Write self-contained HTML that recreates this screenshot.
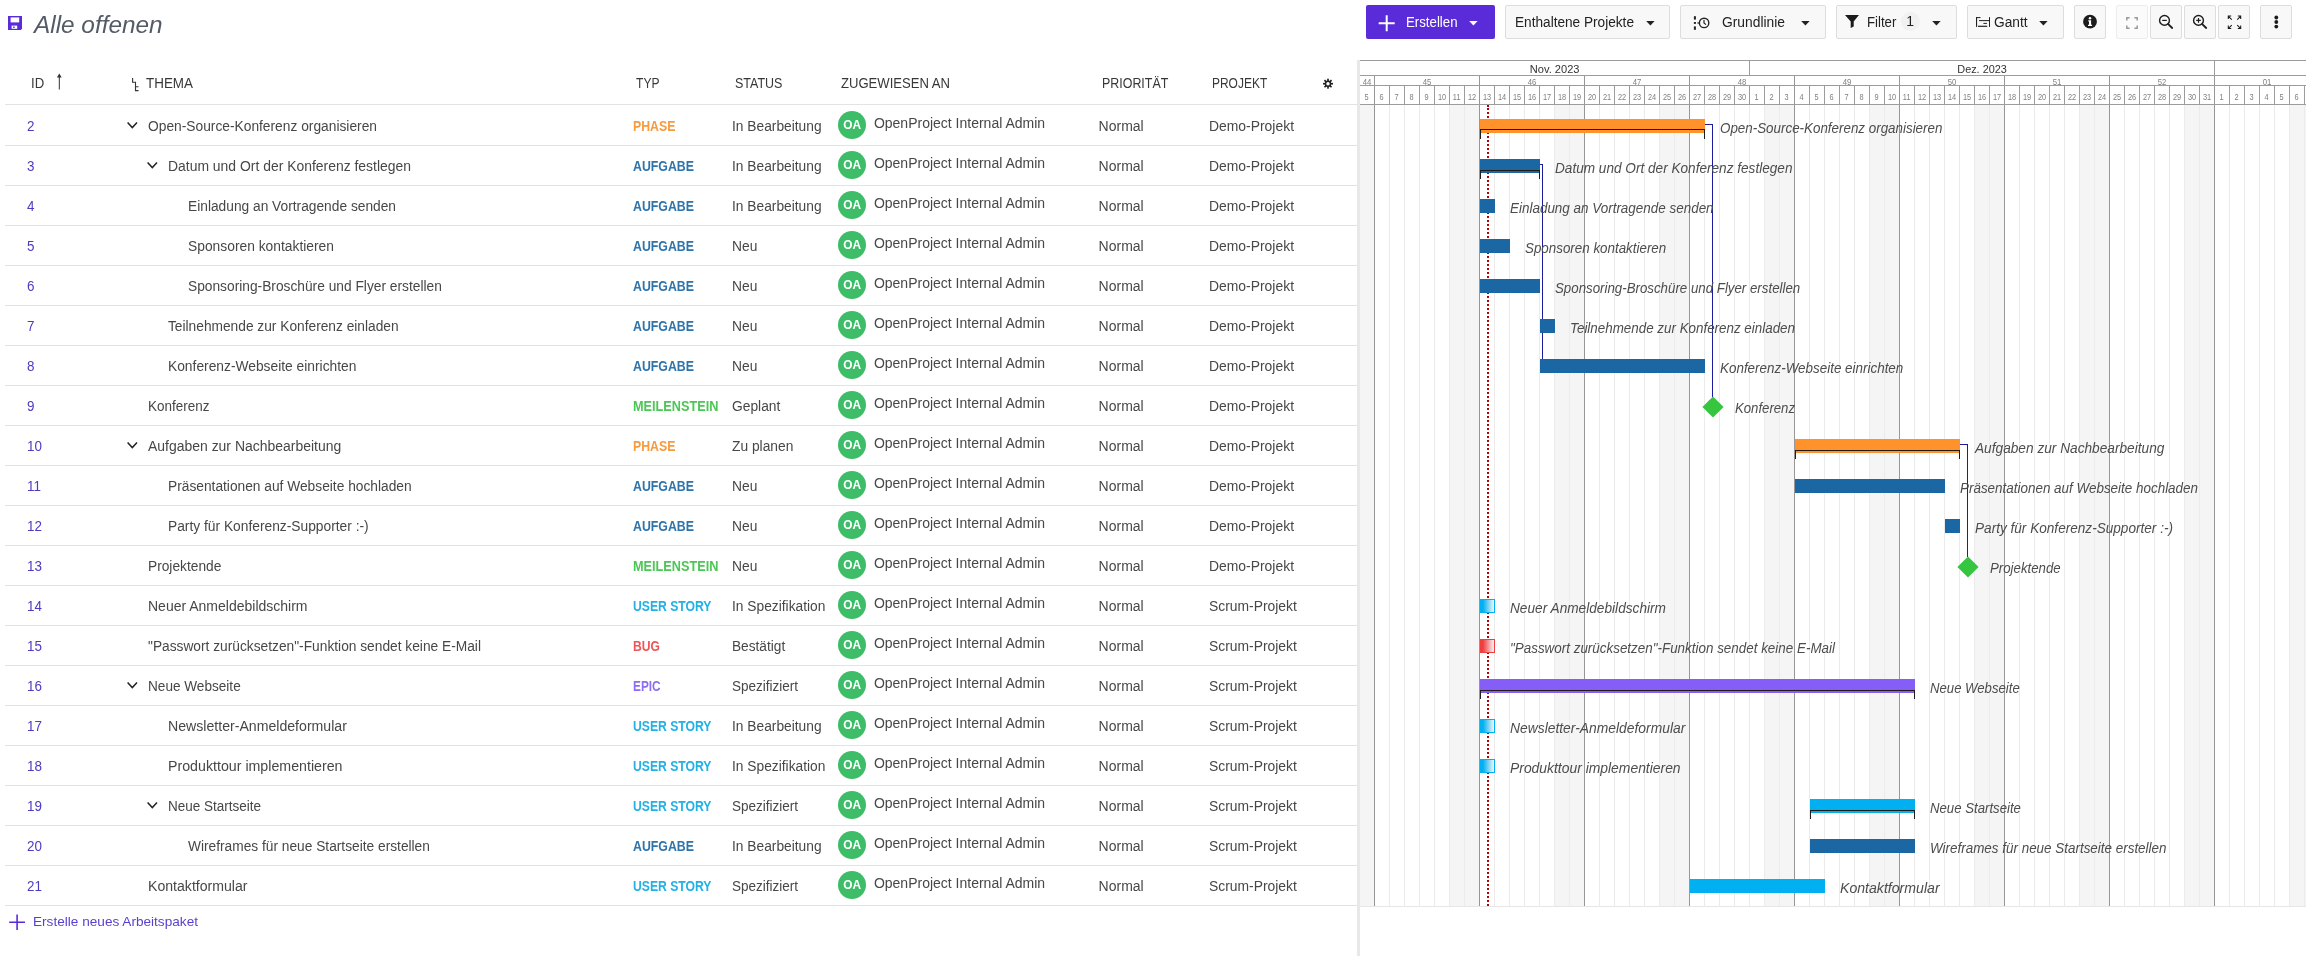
<!DOCTYPE html><html lang="de"><head><meta charset="utf-8"><title>Alle offenen</title><style>
html,body{margin:0;padding:0;background:#fff}html{width:2306px;height:956px;overflow:hidden}body{width:2306px;height:956px;position:relative;overflow:hidden;font-family:"Liberation Sans", sans-serif;}
#w{position:absolute;left:0;top:0;width:2306px;height:956px;overflow:hidden;will-change:transform}#w>div,#w>svg,#w>span{position:absolute;display:block}
.t{white-space:nowrap;line-height:20px;height:20px;transform-origin:0 50%}.c{transform-origin:50% 50%}
</style></head><body><div id="w">
<svg style="left:8px;top:16px" width="14" height="14" viewBox="0 0 14 14"><path fill="#5a2bd9" d="M0 0h14v12.6L12.8 14H0z"/><rect x="2.6" y="1.4" width="8.6" height="5" fill="#fff"/><rect x="3.6" y="9.6" width="5.6" height="3.2" fill="#fff"/><rect x="5.2" y="10.4" width="1.4" height="1.6" fill="#5a2bd9"/></svg>
<div style="left:1366px;top:5px;width:129px;height:34px;background:#5a2bd9;border-radius:2px"></div>
<svg style="left:1378px;top:15px" width="17" height="17" viewBox="0 0 17 17"><path d="M8.7 0.3v16M0.7 8.3h16" stroke="#fff" stroke-width="2" fill="none"/></svg>
<svg style="left:1469.4px;top:21px" width="9" height="5" viewBox="0 0 9 5"><path d="M0.2 0h8.4L4.4 4.6z" fill="#fff"/></svg>
<div style="left:1505px;top:5px;width:165px;height:34px;box-sizing:border-box;background:#f8f8f8;border:1px solid #dddddd;border-radius:2px"></div>
<svg style="left:1645.5px;top:21px" width="9" height="5" viewBox="0 0 9 5"><path d="M0.2 0h8.4L4.4 4.6z" fill="#222"/></svg>
<div style="left:1680px;top:5px;width:146px;height:34px;box-sizing:border-box;background:#f8f8f8;border:1px solid #dddddd;border-radius:2px"></div>
<svg style="left:1692px;top:15px" width="20" height="16" viewBox="0 0 20 16"><g fill="#222"><rect x="1.9" y="1.2" width="2" height="3.4"/><rect x="1.9" y="7" width="2" height="1.9"/><rect x="1.9" y="11.4" width="2" height="3.4"/><rect x="5.4" y="7.4" width="2" height="1.2"/></g><circle cx="12.1" cy="7.9" r="4.7" fill="none" stroke="#222" stroke-width="1.4"/><path d="M12 4.9v3.1l2 1.6" fill="none" stroke="#222" stroke-width="1.2"/></svg>
<svg style="left:1800.8px;top:21px" width="9" height="5" viewBox="0 0 9 5"><path d="M0.2 0h8.4L4.4 4.6z" fill="#222"/></svg>
<div style="left:1836px;top:5px;width:121px;height:34px;box-sizing:border-box;background:#f8f8f8;border:1px solid #dddddd;border-radius:2px"></div>
<svg style="left:1844px;top:14px" width="16" height="15" viewBox="0 0 16 15"><path d="M1 1h14L9.7 7.6v5L6.7 14V7.6z" fill="#1c1c1c"/></svg>
<div style="left:1900.5px;top:12px;width:19px;height:19px;border-radius:50%;background:#f1f1f1"></div>
<svg style="left:1931.8px;top:21px" width="9" height="5" viewBox="0 0 9 5"><path d="M0.2 0h8.4L4.4 4.6z" fill="#222"/></svg>
<div style="left:1967px;top:5px;width:97px;height:34px;box-sizing:border-box;background:#f8f8f8;border:1px solid #dddddd;border-radius:2px"></div>
<svg style="left:1975px;top:16px" width="16" height="12" viewBox="0 0 16 12"><g fill="#222"><rect x="1" y="1.1" width="1.1" height="9.8"/><rect x="1" y="1.1" width="4.5" height="1"/><rect x="4" y="4.1" width="10.5" height="1"/><rect x="8.4" y="6.9" width="3.5" height="1"/><rect x="3" y="9.7" width="9.2" height="1.2"/><rect x="14" y="1.1" width="1" height="9.8"/></g></svg>
<svg style="left:2039px;top:21px" width="9" height="5" viewBox="0 0 9 5"><path d="M0.2 0h8.4L4.4 4.6z" fill="#222"/></svg>
<div style="left:2074px;top:5px;width:32px;height:34px;box-sizing:border-box;background:#f8f8f8;border:1px solid #dddddd;border-radius:2px"></div>
<svg style="left:2082px;top:14px" width="16" height="16" viewBox="0 0 16 16"><circle cx="8" cy="7.7" r="6.9" fill="#1c1c1c"/><g fill="#fff"><circle cx="8" cy="4.2" r="1.25"/><path d="M6.3 6.3h2.8v4.4h1v1.3H6v-1.3h1V7.5H6.3z"/></g></svg>
<div style="left:2116px;top:5px;width:32px;height:34px;box-sizing:border-box;background:#fbfbfb;border:1px solid #ececec;border-radius:2px"></div>
<svg style="left:2125px;top:16px" width="14" height="14" viewBox="0 0 14 14"><path d="M1.8 4.6V1.8h2.8M9.4 1.8h2.8v2.8M12.2 9.4v2.8H9.4M4.6 12.2H1.8V9.4" fill="none" stroke="#9a9a9a" stroke-width="1.5"/></svg>
<div style="left:2150px;top:5px;width:32px;height:34px;box-sizing:border-box;background:#f8f8f8;border:1px solid #dddddd;border-radius:2px"></div>
<svg style="left:2157px;top:13px" width="18" height="18" viewBox="0 0 18 18"><circle cx="7.5" cy="7.4" r="4.9" fill="none" stroke="#1c1c1c" stroke-width="1.4"/><path d="M11.2 11.2l4.0 3.8" stroke="#1c1c1c" stroke-width="1.8" stroke-linecap="round"/><path d="M5.2 7.4h4.6" stroke="#1c1c1c" stroke-width="1.2"/></svg>
<div style="left:2184px;top:5px;width:32px;height:34px;box-sizing:border-box;background:#f8f8f8;border:1px solid #dddddd;border-radius:2px"></div>
<svg style="left:2191px;top:13px" width="18" height="18" viewBox="0 0 18 18"><circle cx="7.5" cy="7.4" r="4.9" fill="none" stroke="#1c1c1c" stroke-width="1.4"/><path d="M11.2 11.2l4.0 3.8" stroke="#1c1c1c" stroke-width="1.8" stroke-linecap="round"/><path d="M5.2 7.4h4.6M7.5 5.1v4.6" stroke="#1c1c1c" stroke-width="1.2"/></svg>
<div style="left:2218px;top:5px;width:32px;height:34px;box-sizing:border-box;background:#f8f8f8;border:1px solid #dddddd;border-radius:2px"></div>
<svg style="left:2226.6px;top:14.6px" width="15" height="14.6" viewBox="0 0 16 16"><g fill="none" stroke="#1c1c1c" stroke-width="1.15"><path d="M1.2 4.4V1.2h3.2M1.4 1.4l3.6 3.6"/><path d="M11.6 1.2h3.2v3.2M14.6 1.4L11 5"/><path d="M1.2 11.6v3.2h3.2M1.4 14.6L5 11"/><path d="M14.8 11.6v3.2h-3.2M14.6 14.6L11 11"/></g></svg>
<div style="left:2260px;top:5px;width:32px;height:34px;box-sizing:border-box;background:#f8f8f8;border:1px solid #dddddd;border-radius:2px"></div>
<svg style="left:2273px;top:14px" width="7" height="16" viewBox="0 0 7 16"><g fill="#1c1c1c"><circle cx="3.3" cy="3.5" r="1.9"/><circle cx="3.3" cy="8" r="1.9"/><circle cx="3.3" cy="12.6" r="1.9"/></g></svg>
<svg style="left:55px;top:73px" width="9" height="17" viewBox="0 0 9 17"><path d="M4.3 16.5V2" stroke="#333" stroke-width="1" fill="none"/><path d="M4.3 0.6L1.9 4.6h4.8z" fill="#333"/></svg>
<svg style="left:130px;top:77px" width="10" height="15" viewBox="0 0 10 15"><path d="M2.6 1v4.3h2.9v8.3h3M5.5 9.7h3" fill="none" stroke="#333" stroke-width="1.1"/></svg>
<svg style="left:1322px;top:78.4px" width="12" height="12" viewBox="0 0 12 12"><g transform="translate(6 5.7)"><g fill="#222"><rect x="-0.85" y="-5.0" width="1.7" height="3" transform="rotate(0)"/><rect x="-0.85" y="-5.0" width="1.7" height="3" transform="rotate(45)"/><rect x="-0.85" y="-5.0" width="1.7" height="3" transform="rotate(90)"/><rect x="-0.85" y="-5.0" width="1.7" height="3" transform="rotate(135)"/><rect x="-0.85" y="-5.0" width="1.7" height="3" transform="rotate(180)"/><rect x="-0.85" y="-5.0" width="1.7" height="3" transform="rotate(225)"/><rect x="-0.85" y="-5.0" width="1.7" height="3" transform="rotate(270)"/><rect x="-0.85" y="-5.0" width="1.7" height="3" transform="rotate(315)"/></g><circle r="3.2" fill="#222"/><circle r="1.7" fill="#fff"/></g></svg>
<div style="left:5px;top:104px;width:1352px;height:1px;background:#e3e3e3;"></div>
<div style="left:5px;top:145px;width:1352px;height:1px;background:#e3e3e3;"></div>
<div style="left:5px;top:185px;width:1352px;height:1px;background:#e3e3e3;"></div>
<div style="left:5px;top:225px;width:1352px;height:1px;background:#e3e3e3;"></div>
<div style="left:5px;top:265px;width:1352px;height:1px;background:#e3e3e3;"></div>
<div style="left:5px;top:305px;width:1352px;height:1px;background:#e3e3e3;"></div>
<div style="left:5px;top:345px;width:1352px;height:1px;background:#e3e3e3;"></div>
<div style="left:5px;top:385px;width:1352px;height:1px;background:#e3e3e3;"></div>
<div style="left:5px;top:425px;width:1352px;height:1px;background:#e3e3e3;"></div>
<div style="left:5px;top:465px;width:1352px;height:1px;background:#e3e3e3;"></div>
<div style="left:5px;top:505px;width:1352px;height:1px;background:#e3e3e3;"></div>
<div style="left:5px;top:545px;width:1352px;height:1px;background:#e3e3e3;"></div>
<div style="left:5px;top:585px;width:1352px;height:1px;background:#e3e3e3;"></div>
<div style="left:5px;top:625px;width:1352px;height:1px;background:#e3e3e3;"></div>
<div style="left:5px;top:665px;width:1352px;height:1px;background:#e3e3e3;"></div>
<div style="left:5px;top:705px;width:1352px;height:1px;background:#e3e3e3;"></div>
<div style="left:5px;top:745px;width:1352px;height:1px;background:#e3e3e3;"></div>
<div style="left:5px;top:785px;width:1352px;height:1px;background:#e3e3e3;"></div>
<div style="left:5px;top:825px;width:1352px;height:1px;background:#e3e3e3;"></div>
<div style="left:5px;top:865px;width:1352px;height:1px;background:#e3e3e3;"></div>
<div style="left:5px;top:905px;width:1352px;height:1px;background:#e3e3e3;"></div>
<svg style="left:126.4px;top:120.8px" width="12" height="9" viewBox="0 0 12 9"><path d="M1.6 1.6l4.7 5 4.7-5" fill="none" stroke="#222" stroke-width="1.5"/></svg>
<div style="left:838px;top:110.8px;width:28px;height:28px;border-radius:50%;background:#3ebd68"></div>
<svg style="left:146.4px;top:160.8px" width="12" height="9" viewBox="0 0 12 9"><path d="M1.6 1.6l4.7 5 4.7-5" fill="none" stroke="#222" stroke-width="1.5"/></svg>
<div style="left:838px;top:150.8px;width:28px;height:28px;border-radius:50%;background:#3ebd68"></div>
<div style="left:838px;top:190.8px;width:28px;height:28px;border-radius:50%;background:#3ebd68"></div>
<div style="left:838px;top:230.8px;width:28px;height:28px;border-radius:50%;background:#3ebd68"></div>
<div style="left:838px;top:270.8px;width:28px;height:28px;border-radius:50%;background:#3ebd68"></div>
<div style="left:838px;top:310.8px;width:28px;height:28px;border-radius:50%;background:#3ebd68"></div>
<div style="left:838px;top:350.8px;width:28px;height:28px;border-radius:50%;background:#3ebd68"></div>
<div style="left:838px;top:390.8px;width:28px;height:28px;border-radius:50%;background:#3ebd68"></div>
<svg style="left:126.4px;top:440.8px" width="12" height="9" viewBox="0 0 12 9"><path d="M1.6 1.6l4.7 5 4.7-5" fill="none" stroke="#222" stroke-width="1.5"/></svg>
<div style="left:838px;top:430.8px;width:28px;height:28px;border-radius:50%;background:#3ebd68"></div>
<div style="left:838px;top:470.8px;width:28px;height:28px;border-radius:50%;background:#3ebd68"></div>
<div style="left:838px;top:510.8px;width:28px;height:28px;border-radius:50%;background:#3ebd68"></div>
<div style="left:838px;top:550.8px;width:28px;height:28px;border-radius:50%;background:#3ebd68"></div>
<div style="left:838px;top:590.8px;width:28px;height:28px;border-radius:50%;background:#3ebd68"></div>
<div style="left:838px;top:630.8px;width:28px;height:28px;border-radius:50%;background:#3ebd68"></div>
<svg style="left:126.4px;top:680.8px" width="12" height="9" viewBox="0 0 12 9"><path d="M1.6 1.6l4.7 5 4.7-5" fill="none" stroke="#222" stroke-width="1.5"/></svg>
<div style="left:838px;top:670.8px;width:28px;height:28px;border-radius:50%;background:#3ebd68"></div>
<div style="left:838px;top:710.8px;width:28px;height:28px;border-radius:50%;background:#3ebd68"></div>
<div style="left:838px;top:750.8px;width:28px;height:28px;border-radius:50%;background:#3ebd68"></div>
<svg style="left:146.4px;top:800.8px" width="12" height="9" viewBox="0 0 12 9"><path d="M1.6 1.6l4.7 5 4.7-5" fill="none" stroke="#222" stroke-width="1.5"/></svg>
<div style="left:838px;top:790.8px;width:28px;height:28px;border-radius:50%;background:#3ebd68"></div>
<div style="left:838px;top:830.8px;width:28px;height:28px;border-radius:50%;background:#3ebd68"></div>
<div style="left:838px;top:870.8px;width:28px;height:28px;border-radius:50%;background:#3ebd68"></div>
<svg style="left:9px;top:914px" width="17" height="17" viewBox="0 0 17 17"><path d="M8.1 0.4v15.6M0.2 8.2h15.8" stroke="#5a2bd9" stroke-width="1.6" fill="none"/></svg>
<div style="left:1357px;top:60px;width:3px;height:896px;background:#e8e8e8;"></div>
<div style="left:1360px;top:105px;width:15px;height:801px;background:#f5f5f5;"></div>
<div style="left:1450px;top:105px;width:15px;height:801px;background:#f5f5f5;"></div>
<div style="left:1465px;top:105px;width:15px;height:801px;background:#f5f5f5;"></div>
<div style="left:1555px;top:105px;width:15px;height:801px;background:#f5f5f5;"></div>
<div style="left:1570px;top:105px;width:15px;height:801px;background:#f5f5f5;"></div>
<div style="left:1660px;top:105px;width:15px;height:801px;background:#f5f5f5;"></div>
<div style="left:1675px;top:105px;width:15px;height:801px;background:#f5f5f5;"></div>
<div style="left:1765px;top:105px;width:15px;height:801px;background:#f5f5f5;"></div>
<div style="left:1780px;top:105px;width:15px;height:801px;background:#f5f5f5;"></div>
<div style="left:1870px;top:105px;width:15px;height:801px;background:#f5f5f5;"></div>
<div style="left:1885px;top:105px;width:15px;height:801px;background:#f5f5f5;"></div>
<div style="left:1975px;top:105px;width:15px;height:801px;background:#f5f5f5;"></div>
<div style="left:1990px;top:105px;width:15px;height:801px;background:#f5f5f5;"></div>
<div style="left:2080px;top:105px;width:15px;height:801px;background:#f5f5f5;"></div>
<div style="left:2095px;top:105px;width:15px;height:801px;background:#f5f5f5;"></div>
<div style="left:2185px;top:105px;width:15px;height:801px;background:#f5f5f5;"></div>
<div style="left:2200px;top:105px;width:15px;height:801px;background:#f5f5f5;"></div>
<div style="left:2290px;top:105px;width:15px;height:801px;background:#f5f5f5;"></div>
<div style="left:2305px;top:105px;width:15px;height:801px;background:#f5f5f5;"></div>
<div style="left:1374px;top:76px;width:1px;height:830px;background:#979797;"></div>
<div style="left:1389px;top:105px;width:1px;height:801px;background:#ebebeb;"></div>
<div style="left:1389px;top:86px;width:1px;height:19px;background:#9c9c9c;"></div>
<div style="left:1404px;top:105px;width:1px;height:801px;background:#ebebeb;"></div>
<div style="left:1404px;top:86px;width:1px;height:19px;background:#9c9c9c;"></div>
<div style="left:1419px;top:105px;width:1px;height:801px;background:#ebebeb;"></div>
<div style="left:1419px;top:86px;width:1px;height:19px;background:#9c9c9c;"></div>
<div style="left:1434px;top:105px;width:1px;height:801px;background:#ebebeb;"></div>
<div style="left:1434px;top:86px;width:1px;height:19px;background:#9c9c9c;"></div>
<div style="left:1449px;top:105px;width:1px;height:801px;background:#ebebeb;"></div>
<div style="left:1449px;top:86px;width:1px;height:19px;background:#9c9c9c;"></div>
<div style="left:1464px;top:105px;width:1px;height:801px;background:#ebebeb;"></div>
<div style="left:1464px;top:86px;width:1px;height:19px;background:#9c9c9c;"></div>
<div style="left:1479px;top:76px;width:1px;height:830px;background:#979797;"></div>
<div style="left:1494px;top:105px;width:1px;height:801px;background:#ebebeb;"></div>
<div style="left:1494px;top:86px;width:1px;height:19px;background:#9c9c9c;"></div>
<div style="left:1509px;top:105px;width:1px;height:801px;background:#ebebeb;"></div>
<div style="left:1509px;top:86px;width:1px;height:19px;background:#9c9c9c;"></div>
<div style="left:1524px;top:105px;width:1px;height:801px;background:#ebebeb;"></div>
<div style="left:1524px;top:86px;width:1px;height:19px;background:#9c9c9c;"></div>
<div style="left:1539px;top:105px;width:1px;height:801px;background:#ebebeb;"></div>
<div style="left:1539px;top:86px;width:1px;height:19px;background:#9c9c9c;"></div>
<div style="left:1554px;top:105px;width:1px;height:801px;background:#ebebeb;"></div>
<div style="left:1554px;top:86px;width:1px;height:19px;background:#9c9c9c;"></div>
<div style="left:1569px;top:105px;width:1px;height:801px;background:#ebebeb;"></div>
<div style="left:1569px;top:86px;width:1px;height:19px;background:#9c9c9c;"></div>
<div style="left:1584px;top:76px;width:1px;height:830px;background:#979797;"></div>
<div style="left:1599px;top:105px;width:1px;height:801px;background:#ebebeb;"></div>
<div style="left:1599px;top:86px;width:1px;height:19px;background:#9c9c9c;"></div>
<div style="left:1614px;top:105px;width:1px;height:801px;background:#ebebeb;"></div>
<div style="left:1614px;top:86px;width:1px;height:19px;background:#9c9c9c;"></div>
<div style="left:1629px;top:105px;width:1px;height:801px;background:#ebebeb;"></div>
<div style="left:1629px;top:86px;width:1px;height:19px;background:#9c9c9c;"></div>
<div style="left:1644px;top:105px;width:1px;height:801px;background:#ebebeb;"></div>
<div style="left:1644px;top:86px;width:1px;height:19px;background:#9c9c9c;"></div>
<div style="left:1659px;top:105px;width:1px;height:801px;background:#ebebeb;"></div>
<div style="left:1659px;top:86px;width:1px;height:19px;background:#9c9c9c;"></div>
<div style="left:1674px;top:105px;width:1px;height:801px;background:#ebebeb;"></div>
<div style="left:1674px;top:86px;width:1px;height:19px;background:#9c9c9c;"></div>
<div style="left:1689px;top:76px;width:1px;height:830px;background:#979797;"></div>
<div style="left:1704px;top:105px;width:1px;height:801px;background:#ebebeb;"></div>
<div style="left:1704px;top:86px;width:1px;height:19px;background:#9c9c9c;"></div>
<div style="left:1719px;top:105px;width:1px;height:801px;background:#ebebeb;"></div>
<div style="left:1719px;top:86px;width:1px;height:19px;background:#9c9c9c;"></div>
<div style="left:1734px;top:105px;width:1px;height:801px;background:#ebebeb;"></div>
<div style="left:1734px;top:86px;width:1px;height:19px;background:#9c9c9c;"></div>
<div style="left:1749px;top:105px;width:1px;height:801px;background:#ebebeb;"></div>
<div style="left:1749px;top:86px;width:1px;height:19px;background:#9c9c9c;"></div>
<div style="left:1764px;top:105px;width:1px;height:801px;background:#ebebeb;"></div>
<div style="left:1764px;top:86px;width:1px;height:19px;background:#9c9c9c;"></div>
<div style="left:1779px;top:105px;width:1px;height:801px;background:#ebebeb;"></div>
<div style="left:1779px;top:86px;width:1px;height:19px;background:#9c9c9c;"></div>
<div style="left:1794px;top:76px;width:1px;height:830px;background:#979797;"></div>
<div style="left:1809px;top:105px;width:1px;height:801px;background:#ebebeb;"></div>
<div style="left:1809px;top:86px;width:1px;height:19px;background:#9c9c9c;"></div>
<div style="left:1824px;top:105px;width:1px;height:801px;background:#ebebeb;"></div>
<div style="left:1824px;top:86px;width:1px;height:19px;background:#9c9c9c;"></div>
<div style="left:1839px;top:105px;width:1px;height:801px;background:#ebebeb;"></div>
<div style="left:1839px;top:86px;width:1px;height:19px;background:#9c9c9c;"></div>
<div style="left:1854px;top:105px;width:1px;height:801px;background:#ebebeb;"></div>
<div style="left:1854px;top:86px;width:1px;height:19px;background:#9c9c9c;"></div>
<div style="left:1869px;top:105px;width:1px;height:801px;background:#ebebeb;"></div>
<div style="left:1869px;top:86px;width:1px;height:19px;background:#9c9c9c;"></div>
<div style="left:1884px;top:105px;width:1px;height:801px;background:#ebebeb;"></div>
<div style="left:1884px;top:86px;width:1px;height:19px;background:#9c9c9c;"></div>
<div style="left:1899px;top:76px;width:1px;height:830px;background:#979797;"></div>
<div style="left:1914px;top:105px;width:1px;height:801px;background:#ebebeb;"></div>
<div style="left:1914px;top:86px;width:1px;height:19px;background:#9c9c9c;"></div>
<div style="left:1929px;top:105px;width:1px;height:801px;background:#ebebeb;"></div>
<div style="left:1929px;top:86px;width:1px;height:19px;background:#9c9c9c;"></div>
<div style="left:1944px;top:105px;width:1px;height:801px;background:#ebebeb;"></div>
<div style="left:1944px;top:86px;width:1px;height:19px;background:#9c9c9c;"></div>
<div style="left:1959px;top:105px;width:1px;height:801px;background:#ebebeb;"></div>
<div style="left:1959px;top:86px;width:1px;height:19px;background:#9c9c9c;"></div>
<div style="left:1974px;top:105px;width:1px;height:801px;background:#ebebeb;"></div>
<div style="left:1974px;top:86px;width:1px;height:19px;background:#9c9c9c;"></div>
<div style="left:1989px;top:105px;width:1px;height:801px;background:#ebebeb;"></div>
<div style="left:1989px;top:86px;width:1px;height:19px;background:#9c9c9c;"></div>
<div style="left:2004px;top:76px;width:1px;height:830px;background:#979797;"></div>
<div style="left:2019px;top:105px;width:1px;height:801px;background:#ebebeb;"></div>
<div style="left:2019px;top:86px;width:1px;height:19px;background:#9c9c9c;"></div>
<div style="left:2034px;top:105px;width:1px;height:801px;background:#ebebeb;"></div>
<div style="left:2034px;top:86px;width:1px;height:19px;background:#9c9c9c;"></div>
<div style="left:2049px;top:105px;width:1px;height:801px;background:#ebebeb;"></div>
<div style="left:2049px;top:86px;width:1px;height:19px;background:#9c9c9c;"></div>
<div style="left:2064px;top:105px;width:1px;height:801px;background:#ebebeb;"></div>
<div style="left:2064px;top:86px;width:1px;height:19px;background:#9c9c9c;"></div>
<div style="left:2079px;top:105px;width:1px;height:801px;background:#ebebeb;"></div>
<div style="left:2079px;top:86px;width:1px;height:19px;background:#9c9c9c;"></div>
<div style="left:2094px;top:105px;width:1px;height:801px;background:#ebebeb;"></div>
<div style="left:2094px;top:86px;width:1px;height:19px;background:#9c9c9c;"></div>
<div style="left:2109px;top:76px;width:1px;height:830px;background:#979797;"></div>
<div style="left:2124px;top:105px;width:1px;height:801px;background:#ebebeb;"></div>
<div style="left:2124px;top:86px;width:1px;height:19px;background:#9c9c9c;"></div>
<div style="left:2139px;top:105px;width:1px;height:801px;background:#ebebeb;"></div>
<div style="left:2139px;top:86px;width:1px;height:19px;background:#9c9c9c;"></div>
<div style="left:2154px;top:105px;width:1px;height:801px;background:#ebebeb;"></div>
<div style="left:2154px;top:86px;width:1px;height:19px;background:#9c9c9c;"></div>
<div style="left:2169px;top:105px;width:1px;height:801px;background:#ebebeb;"></div>
<div style="left:2169px;top:86px;width:1px;height:19px;background:#9c9c9c;"></div>
<div style="left:2184px;top:105px;width:1px;height:801px;background:#ebebeb;"></div>
<div style="left:2184px;top:86px;width:1px;height:19px;background:#9c9c9c;"></div>
<div style="left:2199px;top:105px;width:1px;height:801px;background:#ebebeb;"></div>
<div style="left:2199px;top:86px;width:1px;height:19px;background:#9c9c9c;"></div>
<div style="left:2214px;top:76px;width:1px;height:830px;background:#979797;"></div>
<div style="left:2229px;top:105px;width:1px;height:801px;background:#ebebeb;"></div>
<div style="left:2229px;top:86px;width:1px;height:19px;background:#9c9c9c;"></div>
<div style="left:2244px;top:105px;width:1px;height:801px;background:#ebebeb;"></div>
<div style="left:2244px;top:86px;width:1px;height:19px;background:#9c9c9c;"></div>
<div style="left:2259px;top:105px;width:1px;height:801px;background:#ebebeb;"></div>
<div style="left:2259px;top:86px;width:1px;height:19px;background:#9c9c9c;"></div>
<div style="left:2274px;top:105px;width:1px;height:801px;background:#ebebeb;"></div>
<div style="left:2274px;top:86px;width:1px;height:19px;background:#9c9c9c;"></div>
<div style="left:2289px;top:105px;width:1px;height:801px;background:#ebebeb;"></div>
<div style="left:2289px;top:86px;width:1px;height:19px;background:#9c9c9c;"></div>
<div style="left:2304px;top:105px;width:1px;height:801px;background:#ebebeb;"></div>
<div style="left:2304px;top:86px;width:1px;height:19px;background:#9c9c9c;"></div>
<div style="left:2319px;top:76px;width:1px;height:830px;background:#979797;"></div>
<div style="left:1749px;top:61px;width:1px;height:15px;background:#9c9c9c;"></div>
<div style="left:2214px;top:61px;width:1px;height:15px;background:#9c9c9c;"></div>
<div style="left:1360px;top:60px;width:946px;height:1px;background:#9c9c9c;"></div>
<div style="left:1360px;top:75px;width:946px;height:1px;background:#9c9c9c;"></div>
<div style="left:1360px;top:85px;width:946px;height:1px;background:#9c9c9c;"></div>
<div style="left:1360px;top:104px;width:946px;height:1px;background:#9c9c9c;"></div>
<div style="left:1360px;top:906px;width:946px;height:1px;background:#e6e6e6;"></div>
<div style="left:1487px;top:105px;width:0;height:801px;border-left:2px dotted #b30000"></div>
<div style="left:1705px;top:124px;width:8px;height:1px;background:#1c1c9e;"></div>
<div style="left:1712px;top:124px;width:1px;height:273px;background:#1c1c9e;"></div>
<div style="left:1540px;top:164px;width:3px;height:1px;background:#1c1c9e;"></div>
<div style="left:1542px;top:164px;width:1px;height:195px;background:#1c1c9e;"></div>
<div style="left:1960px;top:444px;width:8px;height:1px;background:#1c1c9e;"></div>
<div style="left:1967px;top:444px;width:1px;height:113px;background:#1c1c9e;"></div>
<div style="left:1480px;top:119px;width:225px;height:14px;background:#FF922B;"></div>
<div style="left:1480px;top:129px;width:1px;height:9.6px;background:#1f1f1f;"></div>
<div style="left:1704px;top:129px;width:1px;height:9.6px;background:#1f1f1f;"></div>
<div style="left:1480px;top:129px;width:225px;height:1.3px;background:#241a12;"></div>
<div style="left:1480px;top:159px;width:60px;height:14px;background:#1A67A3;"></div>
<div style="left:1480px;top:169.8px;width:1px;height:9.6px;background:#1f1f1f;"></div>
<div style="left:1539px;top:169.8px;width:1px;height:9.6px;background:#1f1f1f;"></div>
<div style="left:1480px;top:169.8px;width:60px;height:1.3px;background:#241a12;"></div>
<div style="left:1480px;top:199px;width:15px;height:14px;background:#1A67A3;"></div>
<div style="left:1480px;top:239px;width:30px;height:14px;background:#1A67A3;"></div>
<div style="left:1480px;top:279px;width:60px;height:14px;background:#1A67A3;"></div>
<div style="left:1540px;top:319px;width:15px;height:14px;background:#1A67A3;"></div>
<div style="left:1540px;top:359px;width:165px;height:14px;background:#1A67A3;"></div>
<svg style="left:1701.5px;top:395.7px" width="22" height="22" viewBox="0 0 22 22"><path d="M11 0.4L21.6 11 11 21.6 0.4 11z" fill="#35C53F"/></svg>
<div style="left:1795px;top:439px;width:165px;height:14px;background:#FF922B;"></div>
<div style="left:1795px;top:449.8px;width:1px;height:9.6px;background:#1f1f1f;"></div>
<div style="left:1959px;top:449.8px;width:1px;height:9.6px;background:#1f1f1f;"></div>
<div style="left:1795px;top:449.8px;width:165px;height:1.3px;background:#241a12;"></div>
<div style="left:1795px;top:479px;width:150px;height:14px;background:#1A67A3;"></div>
<div style="left:1945px;top:519px;width:15px;height:14px;background:#1A67A3;"></div>
<svg style="left:1956.5px;top:555.7px" width="22" height="22" viewBox="0 0 22 22"><path d="M11 0.4L21.6 11 11 21.6 0.4 11z" fill="#35C53F"/></svg>
<div style="left:1480px;top:599px;width:15px;height:14px;box-sizing:border-box;border:1px solid #00B0F0;background:linear-gradient(90deg,#00B0F0 0%,#00B0F0 15%,#f4f6f8 100%)"></div>
<div style="left:1480px;top:639px;width:15px;height:14px;box-sizing:border-box;border:1px solid #F03E3E;background:linear-gradient(90deg,#F03E3E 0%,#F03E3E 15%,#f4f6f8 100%)"></div>
<div style="left:1480px;top:679px;width:435px;height:14px;background:#845EF7;"></div>
<div style="left:1480px;top:689.8px;width:1px;height:9.6px;background:#1f1f1f;"></div>
<div style="left:1914px;top:689.8px;width:1px;height:9.6px;background:#1f1f1f;"></div>
<div style="left:1480px;top:689.8px;width:435px;height:1.3px;background:#241a12;"></div>
<div style="left:1480px;top:719px;width:15px;height:14px;box-sizing:border-box;border:1px solid #00B0F0;background:linear-gradient(90deg,#00B0F0 0%,#00B0F0 15%,#f4f6f8 100%)"></div>
<div style="left:1480px;top:759px;width:15px;height:14px;box-sizing:border-box;border:1px solid #00B0F0;background:linear-gradient(90deg,#00B0F0 0%,#00B0F0 15%,#f4f6f8 100%)"></div>
<div style="left:1810px;top:799px;width:105px;height:14px;background:#00B0F0;"></div>
<div style="left:1810px;top:809.8px;width:1px;height:9.6px;background:#1f1f1f;"></div>
<div style="left:1914px;top:809.8px;width:1px;height:9.6px;background:#1f1f1f;"></div>
<div style="left:1810px;top:809.8px;width:105px;height:1.3px;background:#241a12;"></div>
<div style="left:1810px;top:839px;width:105px;height:14px;background:#1A67A3;"></div>
<div style="left:1690px;top:879px;width:135px;height:14px;background:#00B0F0;"></div>
<span id="t0" class="t" style="top:14.58px;font-size:24px;color:#535b66;font-style:italic;left:33.50px;transform:scaleX(1.0145);">Alle offenen</span>
<span id="t1" class="t" style="top:11.85px;font-size:14px;color:#fff;left:1406.00px;transform:scaleX(0.9455);">Erstellen</span>
<span id="t2" class="t" style="top:11.85px;font-size:14px;color:#222;left:1514.50px;transform:scaleX(0.9738);">Enthaltene Projekte</span>
<span id="t3" class="t" style="top:11.85px;font-size:14px;color:#222;left:1721.90px;transform:scaleX(0.9870);">Grundlinie</span>
<span id="t4" class="t" style="top:11.85px;font-size:14px;color:#222;left:1866.80px;transform:scaleX(0.9414);">Filter</span>
<span id="t5" class="t c" style="top:11.35px;font-size:14px;color:#222;left:1906.30px;">1</span>
<span id="t6" class="t" style="top:11.85px;font-size:14px;color:#222;left:1993.50px;transform:scaleX(0.9810);">Gantt</span>
<span id="t7" class="t" style="top:72.95px;font-size:14px;color:#383838;left:31.40px;transform:scaleX(0.9429);">ID</span>
<span id="t8" class="t" style="top:72.95px;font-size:14px;color:#383838;left:146.30px;transform:scaleX(0.9592);">THEMA</span>
<span id="t9" class="t" style="top:72.95px;font-size:14px;color:#383838;left:636.40px;transform:scaleX(0.8629);">TYP</span>
<span id="t10" class="t" style="top:72.95px;font-size:14px;color:#383838;left:734.60px;transform:scaleX(0.8917);">STATUS</span>
<span id="t11" class="t" style="top:72.95px;font-size:14px;color:#383838;left:841.00px;transform:scaleX(0.9341);">ZUGEWIESEN AN</span>
<span id="t12" class="t" style="top:72.95px;font-size:14px;color:#383838;left:1101.60px;transform:scaleX(0.8879);">PRIORITÄT</span>
<span id="t13" class="t" style="top:72.95px;font-size:14px;color:#383838;left:1211.80px;transform:scaleX(0.8548);">PROJEKT</span>
<span id="t14" class="t" style="top:116.15px;font-size:14px;color:#4c3bbf;left:27.00px;transform:scaleX(0.9600);">2</span>
<span id="t15" class="t" style="top:116.15px;font-size:14px;color:#474747;left:148.00px;transform:scaleX(0.9841);">Open-Source-Konferenz organisieren</span>
<span id="t16" class="t" style="top:116.15px;font-size:14px;color:#f79b3f;font-weight:bold;left:633.30px;transform:scaleX(0.8790);">PHASE</span>
<span id="t17" class="t" style="top:116.15px;font-size:14px;color:#474747;left:732.00px;transform:scaleX(0.9838);">In Bearbeitung</span>
<span id="t18" class="t c" style="top:115.44px;font-size:12.3px;color:#fff;font-weight:bold;left:842.67px;transform:scaleX(0.9646);">OA</span>
<span id="t19" class="t" style="top:113.15px;font-size:14px;color:#474747;left:873.90px;">OpenProject Internal Admin</span>
<span id="t20" class="t" style="top:116.15px;font-size:14px;color:#474747;left:1098.60px;">Normal</span>
<span id="t21" class="t" style="top:116.15px;font-size:14px;color:#474747;left:1209.30px;transform:scaleX(0.9931);">Demo-Projekt</span>
<span id="t22" class="t" style="top:156.15px;font-size:14px;color:#4c3bbf;left:27.00px;transform:scaleX(0.9600);">3</span>
<span id="t23" class="t" style="top:156.15px;font-size:14px;color:#474747;left:168.00px;transform:scaleX(0.9944);">Datum und Ort der Konferenz festlegen</span>
<span id="t24" class="t" style="top:156.15px;font-size:14px;color:#2e73ab;font-weight:bold;left:633.30px;transform:scaleX(0.8811);">AUFGABE</span>
<span id="t25" class="t" style="top:156.15px;font-size:14px;color:#474747;left:732.00px;transform:scaleX(0.9838);">In Bearbeitung</span>
<span id="t26" class="t c" style="top:155.44px;font-size:12.3px;color:#fff;font-weight:bold;left:842.67px;transform:scaleX(0.9646);">OA</span>
<span id="t27" class="t" style="top:153.15px;font-size:14px;color:#474747;left:873.90px;">OpenProject Internal Admin</span>
<span id="t28" class="t" style="top:156.15px;font-size:14px;color:#474747;left:1098.60px;">Normal</span>
<span id="t29" class="t" style="top:156.15px;font-size:14px;color:#474747;left:1209.30px;transform:scaleX(0.9931);">Demo-Projekt</span>
<span id="t30" class="t" style="top:196.15px;font-size:14px;color:#4c3bbf;left:27.00px;transform:scaleX(0.9600);">4</span>
<span id="t31" class="t" style="top:196.15px;font-size:14px;color:#474747;left:188.00px;transform:scaleX(0.9824);">Einladung an Vortragende senden</span>
<span id="t32" class="t" style="top:196.15px;font-size:14px;color:#2e73ab;font-weight:bold;left:633.30px;transform:scaleX(0.8811);">AUFGABE</span>
<span id="t33" class="t" style="top:196.15px;font-size:14px;color:#474747;left:732.00px;transform:scaleX(0.9838);">In Bearbeitung</span>
<span id="t34" class="t c" style="top:195.44px;font-size:12.3px;color:#fff;font-weight:bold;left:842.67px;transform:scaleX(0.9646);">OA</span>
<span id="t35" class="t" style="top:193.15px;font-size:14px;color:#474747;left:873.90px;">OpenProject Internal Admin</span>
<span id="t36" class="t" style="top:196.15px;font-size:14px;color:#474747;left:1098.60px;">Normal</span>
<span id="t37" class="t" style="top:196.15px;font-size:14px;color:#474747;left:1209.30px;transform:scaleX(0.9931);">Demo-Projekt</span>
<span id="t38" class="t" style="top:236.15px;font-size:14px;color:#4c3bbf;left:27.00px;transform:scaleX(0.9600);">5</span>
<span id="t39" class="t" style="top:236.15px;font-size:14px;color:#474747;left:188.00px;transform:scaleX(0.9873);">Sponsoren kontaktieren</span>
<span id="t40" class="t" style="top:236.15px;font-size:14px;color:#2e73ab;font-weight:bold;left:633.30px;transform:scaleX(0.8811);">AUFGABE</span>
<span id="t41" class="t" style="top:236.15px;font-size:14px;color:#474747;left:732.00px;transform:scaleX(0.9850);">Neu</span>
<span id="t42" class="t c" style="top:235.44px;font-size:12.3px;color:#fff;font-weight:bold;left:842.67px;transform:scaleX(0.9646);">OA</span>
<span id="t43" class="t" style="top:233.15px;font-size:14px;color:#474747;left:873.90px;">OpenProject Internal Admin</span>
<span id="t44" class="t" style="top:236.15px;font-size:14px;color:#474747;left:1098.60px;">Normal</span>
<span id="t45" class="t" style="top:236.15px;font-size:14px;color:#474747;left:1209.30px;transform:scaleX(0.9931);">Demo-Projekt</span>
<span id="t46" class="t" style="top:276.15px;font-size:14px;color:#4c3bbf;left:27.00px;transform:scaleX(0.9600);">6</span>
<span id="t47" class="t" style="top:276.15px;font-size:14px;color:#474747;left:188.00px;transform:scaleX(0.9824);">Sponsoring-Broschüre und Flyer erstellen</span>
<span id="t48" class="t" style="top:276.15px;font-size:14px;color:#2e73ab;font-weight:bold;left:633.30px;transform:scaleX(0.8811);">AUFGABE</span>
<span id="t49" class="t" style="top:276.15px;font-size:14px;color:#474747;left:732.00px;transform:scaleX(0.9850);">Neu</span>
<span id="t50" class="t c" style="top:275.44px;font-size:12.3px;color:#fff;font-weight:bold;left:842.67px;transform:scaleX(0.9646);">OA</span>
<span id="t51" class="t" style="top:273.15px;font-size:14px;color:#474747;left:873.90px;">OpenProject Internal Admin</span>
<span id="t52" class="t" style="top:276.15px;font-size:14px;color:#474747;left:1098.60px;">Normal</span>
<span id="t53" class="t" style="top:276.15px;font-size:14px;color:#474747;left:1209.30px;transform:scaleX(0.9931);">Demo-Projekt</span>
<span id="t54" class="t" style="top:316.15px;font-size:14px;color:#4c3bbf;left:27.00px;transform:scaleX(0.9600);">7</span>
<span id="t55" class="t" style="top:316.15px;font-size:14px;color:#474747;left:168.00px;transform:scaleX(0.9811);">Teilnehmende zur Konferenz einladen</span>
<span id="t56" class="t" style="top:316.15px;font-size:14px;color:#2e73ab;font-weight:bold;left:633.30px;transform:scaleX(0.8811);">AUFGABE</span>
<span id="t57" class="t" style="top:316.15px;font-size:14px;color:#474747;left:732.00px;transform:scaleX(0.9850);">Neu</span>
<span id="t58" class="t c" style="top:315.44px;font-size:12.3px;color:#fff;font-weight:bold;left:842.67px;transform:scaleX(0.9646);">OA</span>
<span id="t59" class="t" style="top:313.15px;font-size:14px;color:#474747;left:873.90px;">OpenProject Internal Admin</span>
<span id="t60" class="t" style="top:316.15px;font-size:14px;color:#474747;left:1098.60px;">Normal</span>
<span id="t61" class="t" style="top:316.15px;font-size:14px;color:#474747;left:1209.30px;transform:scaleX(0.9931);">Demo-Projekt</span>
<span id="t62" class="t" style="top:356.15px;font-size:14px;color:#4c3bbf;left:27.00px;transform:scaleX(0.9600);">8</span>
<span id="t63" class="t" style="top:356.15px;font-size:14px;color:#474747;left:168.00px;transform:scaleX(0.9854);">Konferenz-Webseite einrichten</span>
<span id="t64" class="t" style="top:356.15px;font-size:14px;color:#2e73ab;font-weight:bold;left:633.30px;transform:scaleX(0.8811);">AUFGABE</span>
<span id="t65" class="t" style="top:356.15px;font-size:14px;color:#474747;left:732.00px;transform:scaleX(0.9850);">Neu</span>
<span id="t66" class="t c" style="top:355.44px;font-size:12.3px;color:#fff;font-weight:bold;left:842.67px;transform:scaleX(0.9646);">OA</span>
<span id="t67" class="t" style="top:353.15px;font-size:14px;color:#474747;left:873.90px;">OpenProject Internal Admin</span>
<span id="t68" class="t" style="top:356.15px;font-size:14px;color:#474747;left:1098.60px;">Normal</span>
<span id="t69" class="t" style="top:356.15px;font-size:14px;color:#474747;left:1209.30px;transform:scaleX(0.9931);">Demo-Projekt</span>
<span id="t70" class="t" style="top:396.15px;font-size:14px;color:#4c3bbf;left:27.00px;transform:scaleX(0.9600);">9</span>
<span id="t71" class="t" style="top:396.15px;font-size:14px;color:#474747;left:148.00px;transform:scaleX(0.9620);">Konferenz</span>
<span id="t72" class="t" style="top:396.15px;font-size:14px;color:#4cc655;font-weight:bold;left:633.30px;transform:scaleX(0.9073);">MEILENSTEIN</span>
<span id="t73" class="t" style="top:396.15px;font-size:14px;color:#474747;left:732.00px;transform:scaleX(0.9850);">Geplant</span>
<span id="t74" class="t c" style="top:395.44px;font-size:12.3px;color:#fff;font-weight:bold;left:842.67px;transform:scaleX(0.9646);">OA</span>
<span id="t75" class="t" style="top:393.15px;font-size:14px;color:#474747;left:873.90px;">OpenProject Internal Admin</span>
<span id="t76" class="t" style="top:396.15px;font-size:14px;color:#474747;left:1098.60px;">Normal</span>
<span id="t77" class="t" style="top:396.15px;font-size:14px;color:#474747;left:1209.30px;transform:scaleX(0.9931);">Demo-Projekt</span>
<span id="t78" class="t" style="top:436.15px;font-size:14px;color:#4c3bbf;left:27.00px;transform:scaleX(0.9600);">10</span>
<span id="t79" class="t" style="top:436.15px;font-size:14px;color:#474747;left:148.00px;transform:scaleX(0.9968);">Aufgaben zur Nachbearbeitung</span>
<span id="t80" class="t" style="top:436.15px;font-size:14px;color:#f79b3f;font-weight:bold;left:633.30px;transform:scaleX(0.8790);">PHASE</span>
<span id="t81" class="t" style="top:436.15px;font-size:14px;color:#474747;left:732.00px;transform:scaleX(0.9850);">Zu planen</span>
<span id="t82" class="t c" style="top:435.44px;font-size:12.3px;color:#fff;font-weight:bold;left:842.67px;transform:scaleX(0.9646);">OA</span>
<span id="t83" class="t" style="top:433.15px;font-size:14px;color:#474747;left:873.90px;">OpenProject Internal Admin</span>
<span id="t84" class="t" style="top:436.15px;font-size:14px;color:#474747;left:1098.60px;">Normal</span>
<span id="t85" class="t" style="top:436.15px;font-size:14px;color:#474747;left:1209.30px;transform:scaleX(0.9931);">Demo-Projekt</span>
<span id="t86" class="t" style="top:476.15px;font-size:14px;color:#4c3bbf;left:27.00px;transform:scaleX(0.9600);">11</span>
<span id="t87" class="t" style="top:476.15px;font-size:14px;color:#474747;left:168.00px;transform:scaleX(0.9821);">Präsentationen auf Webseite hochladen</span>
<span id="t88" class="t" style="top:476.15px;font-size:14px;color:#2e73ab;font-weight:bold;left:633.30px;transform:scaleX(0.8811);">AUFGABE</span>
<span id="t89" class="t" style="top:476.15px;font-size:14px;color:#474747;left:732.00px;transform:scaleX(0.9850);">Neu</span>
<span id="t90" class="t c" style="top:475.44px;font-size:12.3px;color:#fff;font-weight:bold;left:842.67px;transform:scaleX(0.9646);">OA</span>
<span id="t91" class="t" style="top:473.15px;font-size:14px;color:#474747;left:873.90px;">OpenProject Internal Admin</span>
<span id="t92" class="t" style="top:476.15px;font-size:14px;color:#474747;left:1098.60px;">Normal</span>
<span id="t93" class="t" style="top:476.15px;font-size:14px;color:#474747;left:1209.30px;transform:scaleX(0.9931);">Demo-Projekt</span>
<span id="t94" class="t" style="top:516.15px;font-size:14px;color:#4c3bbf;left:27.00px;transform:scaleX(0.9600);">12</span>
<span id="t95" class="t" style="top:516.15px;font-size:14px;color:#474747;left:168.00px;transform:scaleX(0.9844);">Party für Konferenz-Supporter :-)</span>
<span id="t96" class="t" style="top:516.15px;font-size:14px;color:#2e73ab;font-weight:bold;left:633.30px;transform:scaleX(0.8811);">AUFGABE</span>
<span id="t97" class="t" style="top:516.15px;font-size:14px;color:#474747;left:732.00px;transform:scaleX(0.9850);">Neu</span>
<span id="t98" class="t c" style="top:515.44px;font-size:12.3px;color:#fff;font-weight:bold;left:842.67px;transform:scaleX(0.9646);">OA</span>
<span id="t99" class="t" style="top:513.15px;font-size:14px;color:#474747;left:873.90px;">OpenProject Internal Admin</span>
<span id="t100" class="t" style="top:516.15px;font-size:14px;color:#474747;left:1098.60px;">Normal</span>
<span id="t101" class="t" style="top:516.15px;font-size:14px;color:#474747;left:1209.30px;transform:scaleX(0.9931);">Demo-Projekt</span>
<span id="t102" class="t" style="top:556.15px;font-size:14px;color:#4c3bbf;left:27.00px;transform:scaleX(0.9600);">13</span>
<span id="t103" class="t" style="top:556.15px;font-size:14px;color:#474747;left:148.00px;transform:scaleX(0.9810);">Projektende</span>
<span id="t104" class="t" style="top:556.15px;font-size:14px;color:#4cc655;font-weight:bold;left:633.30px;transform:scaleX(0.9073);">MEILENSTEIN</span>
<span id="t105" class="t" style="top:556.15px;font-size:14px;color:#474747;left:732.00px;transform:scaleX(0.9850);">Neu</span>
<span id="t106" class="t c" style="top:555.44px;font-size:12.3px;color:#fff;font-weight:bold;left:842.67px;transform:scaleX(0.9646);">OA</span>
<span id="t107" class="t" style="top:553.15px;font-size:14px;color:#474747;left:873.90px;">OpenProject Internal Admin</span>
<span id="t108" class="t" style="top:556.15px;font-size:14px;color:#474747;left:1098.60px;">Normal</span>
<span id="t109" class="t" style="top:556.15px;font-size:14px;color:#474747;left:1209.30px;transform:scaleX(0.9931);">Demo-Projekt</span>
<span id="t110" class="t" style="top:596.15px;font-size:14px;color:#4c3bbf;left:27.00px;transform:scaleX(0.9600);">14</span>
<span id="t111" class="t" style="top:596.15px;font-size:14px;color:#474747;left:148.00px;">Neuer Anmeldebildschirm</span>
<span id="t112" class="t" style="top:596.15px;font-size:14px;color:#22b0e6;font-weight:bold;left:633.30px;transform:scaleX(0.8698);">USER STORY</span>
<span id="t113" class="t" style="top:596.15px;font-size:14px;color:#474747;left:732.00px;transform:scaleX(0.9836);">In Spezifikation</span>
<span id="t114" class="t c" style="top:595.44px;font-size:12.3px;color:#fff;font-weight:bold;left:842.67px;transform:scaleX(0.9646);">OA</span>
<span id="t115" class="t" style="top:593.15px;font-size:14px;color:#474747;left:873.90px;">OpenProject Internal Admin</span>
<span id="t116" class="t" style="top:596.15px;font-size:14px;color:#474747;left:1098.60px;">Normal</span>
<span id="t117" class="t" style="top:596.15px;font-size:14px;color:#474747;left:1209.30px;transform:scaleX(0.9900);">Scrum-Projekt</span>
<span id="t118" class="t" style="top:636.15px;font-size:14px;color:#4c3bbf;left:27.00px;transform:scaleX(0.9600);">15</span>
<span id="t119" class="t" style="top:636.15px;font-size:14px;color:#474747;left:148.00px;transform:scaleX(0.9820);">"Passwort zurücksetzen"-Funktion sendet keine E-Mail</span>
<span id="t120" class="t" style="top:636.15px;font-size:14px;color:#ee5555;font-weight:bold;left:633.30px;transform:scaleX(0.8675);">BUG</span>
<span id="t121" class="t" style="top:636.15px;font-size:14px;color:#474747;left:732.00px;transform:scaleX(0.9764);">Bestätigt</span>
<span id="t122" class="t c" style="top:635.44px;font-size:12.3px;color:#fff;font-weight:bold;left:842.67px;transform:scaleX(0.9646);">OA</span>
<span id="t123" class="t" style="top:633.15px;font-size:14px;color:#474747;left:873.90px;">OpenProject Internal Admin</span>
<span id="t124" class="t" style="top:636.15px;font-size:14px;color:#474747;left:1098.60px;">Normal</span>
<span id="t125" class="t" style="top:636.15px;font-size:14px;color:#474747;left:1209.30px;transform:scaleX(0.9900);">Scrum-Projekt</span>
<span id="t126" class="t" style="top:676.15px;font-size:14px;color:#4c3bbf;left:27.00px;transform:scaleX(0.9600);">16</span>
<span id="t127" class="t" style="top:676.15px;font-size:14px;color:#474747;left:148.00px;transform:scaleX(0.9710);">Neue Webseite</span>
<span id="t128" class="t" style="top:676.15px;font-size:14px;color:#8d6df2;font-weight:bold;left:633.30px;transform:scaleX(0.8444);">EPIC</span>
<span id="t129" class="t" style="top:676.15px;font-size:14px;color:#474747;left:732.00px;transform:scaleX(0.9654);">Spezifiziert</span>
<span id="t130" class="t c" style="top:675.44px;font-size:12.3px;color:#fff;font-weight:bold;left:842.67px;transform:scaleX(0.9646);">OA</span>
<span id="t131" class="t" style="top:673.15px;font-size:14px;color:#474747;left:873.90px;">OpenProject Internal Admin</span>
<span id="t132" class="t" style="top:676.15px;font-size:14px;color:#474747;left:1098.60px;">Normal</span>
<span id="t133" class="t" style="top:676.15px;font-size:14px;color:#474747;left:1209.30px;transform:scaleX(0.9900);">Scrum-Projekt</span>
<span id="t134" class="t" style="top:716.15px;font-size:14px;color:#4c3bbf;left:27.00px;transform:scaleX(0.9600);">17</span>
<span id="t135" class="t" style="top:716.15px;font-size:14px;color:#474747;left:168.00px;transform:scaleX(1.0084);">Newsletter-Anmeldeformular</span>
<span id="t136" class="t" style="top:716.15px;font-size:14px;color:#22b0e6;font-weight:bold;left:633.30px;transform:scaleX(0.8698);">USER STORY</span>
<span id="t137" class="t" style="top:716.15px;font-size:14px;color:#474747;left:732.00px;transform:scaleX(0.9838);">In Bearbeitung</span>
<span id="t138" class="t c" style="top:715.44px;font-size:12.3px;color:#fff;font-weight:bold;left:842.67px;transform:scaleX(0.9646);">OA</span>
<span id="t139" class="t" style="top:713.15px;font-size:14px;color:#474747;left:873.90px;">OpenProject Internal Admin</span>
<span id="t140" class="t" style="top:716.15px;font-size:14px;color:#474747;left:1098.60px;">Normal</span>
<span id="t141" class="t" style="top:716.15px;font-size:14px;color:#474747;left:1209.30px;transform:scaleX(0.9900);">Scrum-Projekt</span>
<span id="t142" class="t" style="top:756.15px;font-size:14px;color:#4c3bbf;left:27.00px;transform:scaleX(0.9600);">18</span>
<span id="t143" class="t" style="top:756.15px;font-size:14px;color:#474747;left:168.00px;transform:scaleX(1.0146);">Produkttour implementieren</span>
<span id="t144" class="t" style="top:756.15px;font-size:14px;color:#22b0e6;font-weight:bold;left:633.30px;transform:scaleX(0.8698);">USER STORY</span>
<span id="t145" class="t" style="top:756.15px;font-size:14px;color:#474747;left:732.00px;transform:scaleX(0.9836);">In Spezifikation</span>
<span id="t146" class="t c" style="top:755.44px;font-size:12.3px;color:#fff;font-weight:bold;left:842.67px;transform:scaleX(0.9646);">OA</span>
<span id="t147" class="t" style="top:753.15px;font-size:14px;color:#474747;left:873.90px;">OpenProject Internal Admin</span>
<span id="t148" class="t" style="top:756.15px;font-size:14px;color:#474747;left:1098.60px;">Normal</span>
<span id="t149" class="t" style="top:756.15px;font-size:14px;color:#474747;left:1209.30px;transform:scaleX(0.9900);">Scrum-Projekt</span>
<span id="t150" class="t" style="top:796.15px;font-size:14px;color:#4c3bbf;left:27.00px;transform:scaleX(0.9600);">19</span>
<span id="t151" class="t" style="top:796.15px;font-size:14px;color:#474747;left:168.00px;transform:scaleX(0.9648);">Neue Startseite</span>
<span id="t152" class="t" style="top:796.15px;font-size:14px;color:#22b0e6;font-weight:bold;left:633.30px;transform:scaleX(0.8698);">USER STORY</span>
<span id="t153" class="t" style="top:796.15px;font-size:14px;color:#474747;left:732.00px;transform:scaleX(0.9654);">Spezifiziert</span>
<span id="t154" class="t c" style="top:795.44px;font-size:12.3px;color:#fff;font-weight:bold;left:842.67px;transform:scaleX(0.9646);">OA</span>
<span id="t155" class="t" style="top:793.15px;font-size:14px;color:#474747;left:873.90px;">OpenProject Internal Admin</span>
<span id="t156" class="t" style="top:796.15px;font-size:14px;color:#474747;left:1098.60px;">Normal</span>
<span id="t157" class="t" style="top:796.15px;font-size:14px;color:#474747;left:1209.30px;transform:scaleX(0.9900);">Scrum-Projekt</span>
<span id="t158" class="t" style="top:836.15px;font-size:14px;color:#4c3bbf;left:27.00px;transform:scaleX(0.9600);">20</span>
<span id="t159" class="t" style="top:836.15px;font-size:14px;color:#474747;left:188.00px;transform:scaleX(0.9807);">Wireframes für neue Startseite erstellen</span>
<span id="t160" class="t" style="top:836.15px;font-size:14px;color:#2e73ab;font-weight:bold;left:633.30px;transform:scaleX(0.8811);">AUFGABE</span>
<span id="t161" class="t" style="top:836.15px;font-size:14px;color:#474747;left:732.00px;transform:scaleX(0.9838);">In Bearbeitung</span>
<span id="t162" class="t c" style="top:835.44px;font-size:12.3px;color:#fff;font-weight:bold;left:842.67px;transform:scaleX(0.9646);">OA</span>
<span id="t163" class="t" style="top:833.15px;font-size:14px;color:#474747;left:873.90px;">OpenProject Internal Admin</span>
<span id="t164" class="t" style="top:836.15px;font-size:14px;color:#474747;left:1098.60px;">Normal</span>
<span id="t165" class="t" style="top:836.15px;font-size:14px;color:#474747;left:1209.30px;transform:scaleX(0.9900);">Scrum-Projekt</span>
<span id="t166" class="t" style="top:876.15px;font-size:14px;color:#4c3bbf;left:27.00px;transform:scaleX(0.9600);">21</span>
<span id="t167" class="t" style="top:876.15px;font-size:14px;color:#474747;left:148.00px;transform:scaleX(1.0068);">Kontaktformular</span>
<span id="t168" class="t" style="top:876.15px;font-size:14px;color:#22b0e6;font-weight:bold;left:633.30px;transform:scaleX(0.8698);">USER STORY</span>
<span id="t169" class="t" style="top:876.15px;font-size:14px;color:#474747;left:732.00px;transform:scaleX(0.9654);">Spezifiziert</span>
<span id="t170" class="t c" style="top:875.44px;font-size:12.3px;color:#fff;font-weight:bold;left:842.67px;transform:scaleX(0.9646);">OA</span>
<span id="t171" class="t" style="top:873.15px;font-size:14px;color:#474747;left:873.90px;">OpenProject Internal Admin</span>
<span id="t172" class="t" style="top:876.15px;font-size:14px;color:#474747;left:1098.60px;">Normal</span>
<span id="t173" class="t" style="top:876.15px;font-size:14px;color:#474747;left:1209.30px;transform:scaleX(0.9900);">Scrum-Projekt</span>
<span id="t174" class="t" style="top:912.32px;font-size:13.5px;color:#5a3fd0;left:33.10px;transform:scaleX(1.0085);">Erstelle neues Arbeitspaket</span>
<span id="t175" class="t c" style="top:59.19px;font-size:11px;color:#333;left:1529.84px;transform:scaleX(1.0055);">Nov. 2023</span>
<span id="t176" class="t c" style="top:59.19px;font-size:11px;color:#333;left:1956.92px;transform:scaleX(0.9889);">Dez. 2023</span>
<span id="t177" class="t c" style="top:71.78px;font-size:9px;color:#808080;left:1361.99px;transform:scaleX(0.8600);">44</span>
<span id="t178" class="t c" style="top:71.78px;font-size:9px;color:#808080;left:1421.99px;transform:scaleX(0.8600);">45</span>
<span id="t179" class="t c" style="top:71.78px;font-size:9px;color:#808080;left:1526.99px;transform:scaleX(0.8600);">46</span>
<span id="t180" class="t c" style="top:71.78px;font-size:9px;color:#808080;left:1631.99px;transform:scaleX(0.8600);">47</span>
<span id="t181" class="t c" style="top:71.78px;font-size:9px;color:#808080;left:1736.99px;transform:scaleX(0.8600);">48</span>
<span id="t182" class="t c" style="top:71.78px;font-size:9px;color:#808080;left:1841.99px;transform:scaleX(0.8600);">49</span>
<span id="t183" class="t c" style="top:71.78px;font-size:9px;color:#808080;left:1946.99px;transform:scaleX(0.8600);">50</span>
<span id="t184" class="t c" style="top:71.78px;font-size:9px;color:#808080;left:2051.99px;transform:scaleX(0.8600);">51</span>
<span id="t185" class="t c" style="top:71.78px;font-size:9px;color:#808080;left:2156.99px;transform:scaleX(0.8600);">52</span>
<span id="t186" class="t c" style="top:71.78px;font-size:9px;color:#808080;left:2261.99px;transform:scaleX(0.8600);">01</span>
<span id="t187" class="t c" style="top:86.88px;font-size:9px;color:#808080;left:1364.49px;transform:scaleX(0.8200);">5</span>
<span id="t188" class="t c" style="top:86.88px;font-size:9px;color:#808080;left:1379.49px;transform:scaleX(0.8200);">6</span>
<span id="t189" class="t c" style="top:86.88px;font-size:9px;color:#808080;left:1394.49px;transform:scaleX(0.8200);">7</span>
<span id="t190" class="t c" style="top:86.88px;font-size:9px;color:#808080;left:1409.49px;transform:scaleX(0.8200);">8</span>
<span id="t191" class="t c" style="top:86.88px;font-size:9px;color:#808080;left:1424.49px;transform:scaleX(0.8200);">9</span>
<span id="t192" class="t c" style="top:86.88px;font-size:9px;color:#808080;left:1436.99px;transform:scaleX(0.8200);">10</span>
<span id="t193" class="t c" style="top:86.88px;font-size:9px;color:#808080;left:1452.33px;transform:scaleX(0.8200);">11</span>
<span id="t194" class="t c" style="top:86.88px;font-size:9px;color:#808080;left:1466.99px;transform:scaleX(0.8200);">12</span>
<span id="t195" class="t c" style="top:86.88px;font-size:9px;color:#808080;left:1481.99px;transform:scaleX(0.8200);">13</span>
<span id="t196" class="t c" style="top:86.88px;font-size:9px;color:#808080;left:1496.99px;transform:scaleX(0.8200);">14</span>
<span id="t197" class="t c" style="top:86.88px;font-size:9px;color:#808080;left:1511.99px;transform:scaleX(0.8200);">15</span>
<span id="t198" class="t c" style="top:86.88px;font-size:9px;color:#808080;left:1526.99px;transform:scaleX(0.8200);">16</span>
<span id="t199" class="t c" style="top:86.88px;font-size:9px;color:#808080;left:1541.99px;transform:scaleX(0.8200);">17</span>
<span id="t200" class="t c" style="top:86.88px;font-size:9px;color:#808080;left:1556.99px;transform:scaleX(0.8200);">18</span>
<span id="t201" class="t c" style="top:86.88px;font-size:9px;color:#808080;left:1571.99px;transform:scaleX(0.8200);">19</span>
<span id="t202" class="t c" style="top:86.88px;font-size:9px;color:#808080;left:1586.99px;transform:scaleX(0.8200);">20</span>
<span id="t203" class="t c" style="top:86.88px;font-size:9px;color:#808080;left:1601.99px;transform:scaleX(0.8200);">21</span>
<span id="t204" class="t c" style="top:86.88px;font-size:9px;color:#808080;left:1616.99px;transform:scaleX(0.8200);">22</span>
<span id="t205" class="t c" style="top:86.88px;font-size:9px;color:#808080;left:1631.99px;transform:scaleX(0.8200);">23</span>
<span id="t206" class="t c" style="top:86.88px;font-size:9px;color:#808080;left:1646.99px;transform:scaleX(0.8200);">24</span>
<span id="t207" class="t c" style="top:86.88px;font-size:9px;color:#808080;left:1661.99px;transform:scaleX(0.8200);">25</span>
<span id="t208" class="t c" style="top:86.88px;font-size:9px;color:#808080;left:1676.99px;transform:scaleX(0.8200);">26</span>
<span id="t209" class="t c" style="top:86.88px;font-size:9px;color:#808080;left:1691.99px;transform:scaleX(0.8200);">27</span>
<span id="t210" class="t c" style="top:86.88px;font-size:9px;color:#808080;left:1706.99px;transform:scaleX(0.8200);">28</span>
<span id="t211" class="t c" style="top:86.88px;font-size:9px;color:#808080;left:1721.99px;transform:scaleX(0.8200);">29</span>
<span id="t212" class="t c" style="top:86.88px;font-size:9px;color:#808080;left:1736.99px;transform:scaleX(0.8200);">30</span>
<span id="t213" class="t c" style="top:86.88px;font-size:9px;color:#808080;left:1754.49px;transform:scaleX(0.8200);">1</span>
<span id="t214" class="t c" style="top:86.88px;font-size:9px;color:#808080;left:1769.49px;transform:scaleX(0.8200);">2</span>
<span id="t215" class="t c" style="top:86.88px;font-size:9px;color:#808080;left:1784.49px;transform:scaleX(0.8200);">3</span>
<span id="t216" class="t c" style="top:86.88px;font-size:9px;color:#808080;left:1799.49px;transform:scaleX(0.8200);">4</span>
<span id="t217" class="t c" style="top:86.88px;font-size:9px;color:#808080;left:1814.49px;transform:scaleX(0.8200);">5</span>
<span id="t218" class="t c" style="top:86.88px;font-size:9px;color:#808080;left:1829.49px;transform:scaleX(0.8200);">6</span>
<span id="t219" class="t c" style="top:86.88px;font-size:9px;color:#808080;left:1844.49px;transform:scaleX(0.8200);">7</span>
<span id="t220" class="t c" style="top:86.88px;font-size:9px;color:#808080;left:1859.49px;transform:scaleX(0.8200);">8</span>
<span id="t221" class="t c" style="top:86.88px;font-size:9px;color:#808080;left:1874.49px;transform:scaleX(0.8200);">9</span>
<span id="t222" class="t c" style="top:86.88px;font-size:9px;color:#808080;left:1886.99px;transform:scaleX(0.8200);">10</span>
<span id="t223" class="t c" style="top:86.88px;font-size:9px;color:#808080;left:1902.33px;transform:scaleX(0.8200);">11</span>
<span id="t224" class="t c" style="top:86.88px;font-size:9px;color:#808080;left:1916.99px;transform:scaleX(0.8200);">12</span>
<span id="t225" class="t c" style="top:86.88px;font-size:9px;color:#808080;left:1931.99px;transform:scaleX(0.8200);">13</span>
<span id="t226" class="t c" style="top:86.88px;font-size:9px;color:#808080;left:1946.99px;transform:scaleX(0.8200);">14</span>
<span id="t227" class="t c" style="top:86.88px;font-size:9px;color:#808080;left:1961.99px;transform:scaleX(0.8200);">15</span>
<span id="t228" class="t c" style="top:86.88px;font-size:9px;color:#808080;left:1976.99px;transform:scaleX(0.8200);">16</span>
<span id="t229" class="t c" style="top:86.88px;font-size:9px;color:#808080;left:1991.99px;transform:scaleX(0.8200);">17</span>
<span id="t230" class="t c" style="top:86.88px;font-size:9px;color:#808080;left:2006.99px;transform:scaleX(0.8200);">18</span>
<span id="t231" class="t c" style="top:86.88px;font-size:9px;color:#808080;left:2021.99px;transform:scaleX(0.8200);">19</span>
<span id="t232" class="t c" style="top:86.88px;font-size:9px;color:#808080;left:2036.99px;transform:scaleX(0.8200);">20</span>
<span id="t233" class="t c" style="top:86.88px;font-size:9px;color:#808080;left:2051.99px;transform:scaleX(0.8200);">21</span>
<span id="t234" class="t c" style="top:86.88px;font-size:9px;color:#808080;left:2066.99px;transform:scaleX(0.8200);">22</span>
<span id="t235" class="t c" style="top:86.88px;font-size:9px;color:#808080;left:2081.99px;transform:scaleX(0.8200);">23</span>
<span id="t236" class="t c" style="top:86.88px;font-size:9px;color:#808080;left:2096.99px;transform:scaleX(0.8200);">24</span>
<span id="t237" class="t c" style="top:86.88px;font-size:9px;color:#808080;left:2111.99px;transform:scaleX(0.8200);">25</span>
<span id="t238" class="t c" style="top:86.88px;font-size:9px;color:#808080;left:2126.99px;transform:scaleX(0.8200);">26</span>
<span id="t239" class="t c" style="top:86.88px;font-size:9px;color:#808080;left:2141.99px;transform:scaleX(0.8200);">27</span>
<span id="t240" class="t c" style="top:86.88px;font-size:9px;color:#808080;left:2156.99px;transform:scaleX(0.8200);">28</span>
<span id="t241" class="t c" style="top:86.88px;font-size:9px;color:#808080;left:2171.99px;transform:scaleX(0.8200);">29</span>
<span id="t242" class="t c" style="top:86.88px;font-size:9px;color:#808080;left:2186.99px;transform:scaleX(0.8200);">30</span>
<span id="t243" class="t c" style="top:86.88px;font-size:9px;color:#808080;left:2201.99px;transform:scaleX(0.8200);">31</span>
<span id="t244" class="t c" style="top:86.88px;font-size:9px;color:#808080;left:2219.49px;transform:scaleX(0.8200);">1</span>
<span id="t245" class="t c" style="top:86.88px;font-size:9px;color:#808080;left:2234.49px;transform:scaleX(0.8200);">2</span>
<span id="t246" class="t c" style="top:86.88px;font-size:9px;color:#808080;left:2249.49px;transform:scaleX(0.8200);">3</span>
<span id="t247" class="t c" style="top:86.88px;font-size:9px;color:#808080;left:2264.49px;transform:scaleX(0.8200);">4</span>
<span id="t248" class="t c" style="top:86.88px;font-size:9px;color:#808080;left:2279.49px;transform:scaleX(0.8200);">5</span>
<span id="t249" class="t c" style="top:86.88px;font-size:9px;color:#808080;left:2294.49px;transform:scaleX(0.8200);">6</span>
<span id="t250" class="t c" style="top:86.88px;font-size:9px;color:#808080;left:2309.49px;transform:scaleX(0.8200);">7</span>
<span id="t251" class="t" style="top:117.95px;font-size:14px;color:#4d4d4d;font-style:italic;left:1719.70px;transform:scaleX(0.9557);">Open-Source-Konferenz organisieren</span>
<span id="t252" class="t" style="top:157.95px;font-size:14px;color:#4d4d4d;font-style:italic;left:1554.70px;transform:scaleX(0.9719);">Datum und Ort der Konferenz festlegen</span>
<span id="t253" class="t" style="top:197.95px;font-size:14px;color:#4d4d4d;font-style:italic;left:1509.70px;transform:scaleX(0.9604);">Einladung an Vortragende senden</span>
<span id="t254" class="t" style="top:237.95px;font-size:14px;color:#4d4d4d;font-style:italic;left:1524.70px;transform:scaleX(0.9549);">Sponsoren kontaktieren</span>
<span id="t255" class="t" style="top:277.95px;font-size:14px;color:#4d4d4d;font-style:italic;left:1554.70px;transform:scaleX(0.9491);">Sponsoring-Broschüre und Flyer erstellen</span>
<span id="t256" class="t" style="top:317.95px;font-size:14px;color:#4d4d4d;font-style:italic;left:1569.70px;transform:scaleX(0.9561);">Teilnehmende zur Konferenz einladen</span>
<span id="t257" class="t" style="top:357.95px;font-size:14px;color:#4d4d4d;font-style:italic;left:1719.70px;transform:scaleX(0.9587);">Konferenz-Webseite einrichten</span>
<span id="t258" class="t" style="top:397.95px;font-size:14px;color:#4d4d4d;font-style:italic;left:1734.70px;transform:scaleX(0.9400);">Konferenz</span>
<span id="t259" class="t" style="top:437.95px;font-size:14px;color:#4d4d4d;font-style:italic;left:1974.70px;transform:scaleX(0.9772);">Aufgaben zur Nachbearbeitung</span>
<span id="t260" class="t" style="top:477.95px;font-size:14px;color:#4d4d4d;font-style:italic;left:1959.70px;transform:scaleX(0.9596);">Präsentationen auf Webseite hochladen</span>
<span id="t261" class="t" style="top:517.95px;font-size:14px;color:#4d4d4d;font-style:italic;left:1974.70px;transform:scaleX(0.9712);">Party für Konferenz-Supporter :-)</span>
<span id="t262" class="t" style="top:557.95px;font-size:14px;color:#4d4d4d;font-style:italic;left:1989.70px;transform:scaleX(0.9462);">Projektende</span>
<span id="t263" class="t" style="top:597.95px;font-size:14px;color:#4d4d4d;font-style:italic;left:1509.50px;transform:scaleX(0.9763);">Neuer Anmeldebildschirm</span>
<span id="t264" class="t" style="top:637.95px;font-size:14px;color:#4d4d4d;font-style:italic;left:1509.50px;transform:scaleX(0.9584);">"Passwort zurücksetzen"-Funktion sendet keine E-Mail</span>
<span id="t265" class="t" style="top:677.95px;font-size:14px;color:#4d4d4d;font-style:italic;left:1929.70px;transform:scaleX(0.9396);">Neue Webseite</span>
<span id="t266" class="t" style="top:717.95px;font-size:14px;color:#4d4d4d;font-style:italic;left:1509.50px;transform:scaleX(0.9896);">Newsletter-Anmeldeformular</span>
<span id="t267" class="t" style="top:757.95px;font-size:14px;color:#4d4d4d;font-style:italic;left:1509.50px;transform:scaleX(0.9920);">Produkttour implementieren</span>
<span id="t268" class="t" style="top:797.95px;font-size:14px;color:#4d4d4d;font-style:italic;left:1929.70px;transform:scaleX(0.9420);">Neue Startseite</span>
<span id="t269" class="t" style="top:837.95px;font-size:14px;color:#4d4d4d;font-style:italic;left:1929.70px;transform:scaleX(0.9593);">Wireframes für neue Startseite erstellen</span>
<span id="t270" class="t" style="top:877.95px;font-size:14px;color:#4d4d4d;font-style:italic;left:1839.70px;transform:scaleX(1.0078);">Kontaktformular</span>
</div></body></html>
